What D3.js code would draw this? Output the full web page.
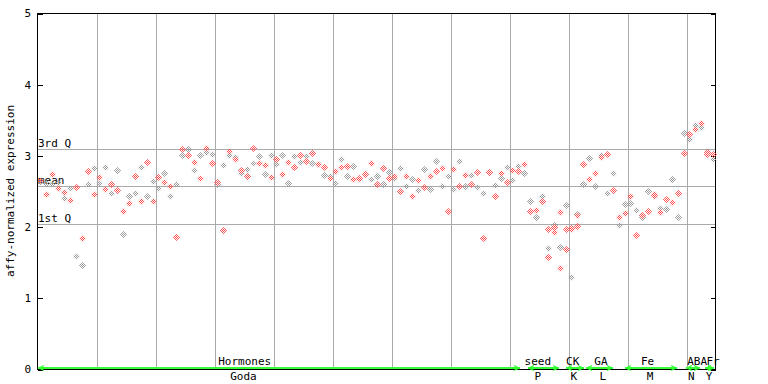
<!DOCTYPE html>
<html><head><meta charset="utf-8">
<script src="https://cdn.jsdelivr.net/npm/d3@7"></script>
<style>
body{margin:0;background:#fff}
svg{display:block}
text{font-family:"DejaVu Sans Mono",monospace;font-size:11px;fill:#000}
</style>
</head><body>
<svg id="chart" width="768" height="384"></svg>
<script>
// replicate values per sample (column)
const repRed = [2.66,2.46,2.74,2.55,2.49,2.38,2.57,1.85,2.79,2.47,
  2.71,2.54,2.60,2.52,2.23,2.34,2.72,2.37,2.92,2.37,
  2.71,2.64,2.58,1.86,3.10,3.01,2.92,2.69,3.11,2.90,
  2.63,1.96,3.07,2.96,2.80,2.72,3.11,2.90,2.87,2.71,
  2.96,2.75,2.92,2.85,3.01,2.93,3.04,2.88,2.85,2.69,
  2.79,2.85,2.86,2.68,2.69,2.75,2.90,2.61,2.83,2.69,
  2.72,2.51,2.72,2.43,2.66,2.57,2.72,2.79,2.83,2.23,
  2.82,2.58,2.73,2.61,2.78,1.84,2.78,2.43,2.76,2.64,
  2.80,2.79,2.89,2.23,2.24,2.37,1.98,1.93,2.21,1.69,
  1.99,2.17,2.89,2.68,2.76,2.99,3.03,2.52,2.14,2.20,
  2.43,1.89,2.17,2.23,2.47,2.21,2.40,2.35,2.48,3.04,
  3.31,3.38,3.46,3.03,3.03];
const repGray = [2.63,2.62,2.60,2.63,2.41,2.55,1.59,1.47,2.61,2.83,
  2.62,2.85,2.48,2.80,1.91,2.44,2.48,2.85,2.44,2.65,
  2.55,2.76,2.44,2.60,3.01,3.09,2.80,3.01,3.06,3.03,
  2.61,2.87,3.01,2.98,2.76,2.82,2.90,3.00,2.75,3.01,
  2.89,3.01,2.62,3.00,2.92,3.00,2.90,2.89,2.73,2.72,
  2.62,2.96,2.72,2.86,2.67,2.76,2.68,2.72,2.61,2.78,
  2.69,2.83,2.58,2.68,2.52,2.82,2.54,2.93,2.58,2.72,
  2.54,2.93,2.58,2.73,2.57,2.48,2.77,2.59,2.69,2.85,
  2.66,2.86,2.76,2.37,2.14,2.43,1.71,2.03,1.72,2.31,
  1.30,2.19,2.61,2.97,2.58,3.01,2.48,2.76,2.03,2.33,
  2.34,2.24,2.14,2.51,2.43,2.27,2.26,2.68,2.14,3.32,
  3.24,3.44,3.41,3.07,2.96];
const rep3Cols = [86,87,88,89,90,91,104,113];
const rep3Vals = [1.58,2.00,1.43,1.98,1.97,2.02,2.45,3.05];

const yTicks = [0,1,2,3,4,5];
const refLabels = ["3rd Q","mean","1st Q"];
const refValues = [3.10,2.58,2.04];

const groupNames = ["Hormones","seed","CK","GA","Fe","ABA","Fr"];
const groupStart = [-0.45,82.6,89.1,92.5,99.1,109.4,112.6];
const groupEnd   = [81.2,87.9,92.1,97.0,107.9,111.8,114.1];
const groupLabelPos = [34.6,84.3,90.2,95.0,102.9,111.3,114.0];
const subNames = ["Goda","P","K","L","M","N","Y"];
const subLabelPos = [34.4,84.3,90.4,95.3,103.3,110.3,113.3];
const yTitle = "affy-normalized expression";

const svg = d3.select("#chart");
const x = d3.scaleLinear().domain([-0.508,114.407]).range([37.5,715.5]);
const y = d3.scaleLinear().domain([0,5]).range([369.5,13.5]);
const L = 37.5, R = 715.5, T = 13.5, B = 369.5;

// checker patterns
const defs = svg.append("defs");
[["pr","#ff4d4d"],["pg","#999999"]].forEach(([id,c])=>{
  const p = defs.append("pattern").attr("id",id).attr("patternUnits","userSpaceOnUse")
    .attr("width",2).attr("height",2);
  p.append("rect").attr("x",0).attr("y",0).attr("width",1).attr("height",1).attr("fill",c);
  p.append("rect").attr("x",1).attr("y",1).attr("width",1).attr("height",1).attr("fill",c);
});

// vertical grid
const gridCols = d3.range(1,12).map(k=>10*k-0.34);
svg.append("g").attr("shape-rendering","crispEdges").selectAll("line").data(gridCols).join("line")
  .attr("x1",d=>Math.round(x(d))+0.5).attr("x2",d=>Math.round(x(d))+0.5)
  .attr("y1",T).attr("y2",B).attr("stroke","#aaaaaa").attr("stroke-width",1);

// reference lines
svg.append("g").attr("shape-rendering","crispEdges").selectAll("line").data(refValues).join("line")
  .attr("x1",L).attr("x2",R)
  .attr("y1",d=>Math.round(y(d))+0.5).attr("y2",d=>Math.round(y(d))+0.5)
  .attr("stroke","#aaaaaa").attr("stroke-width",1);
svg.append("g").selectAll("text").data(refValues).join("text")
  .attr("x",38).attr("y",d=>Math.round(y(d))-2)
  .text((d,i)=>refLabels[i]);

// frame
svg.append("rect").attr("x",L).attr("y",T).attr("width",R-L).attr("height",B-T)
  .attr("fill","none").attr("stroke","#000").attr("stroke-width",1).attr("shape-rendering","crispEdges");

// y axis ticks + labels
const ty = v=>Math.round(y(v))+0.5;
svg.append("g").attr("shape-rendering","crispEdges").selectAll("line").data(yTicks).join("line")
  .attr("x1",L).attr("x2",L+5).attr("y1",ty).attr("y2",ty).attr("stroke","#000");
svg.append("g").attr("shape-rendering","crispEdges").selectAll("line").data(yTicks).join("line")
  .attr("x1",R-5).attr("x2",R).attr("y1",ty).attr("y2",ty).attr("stroke","#000");
svg.append("g").selectAll("text").data(yTicks).join("text")
  .attr("x",31).attr("y",d=>y(d)).attr("dy","0.36em").attr("text-anchor","end")
  .text(d=>d);

svg.append("text").attr("transform","translate(14,191) rotate(-90)")
  .attr("text-anchor","middle").text(yTitle);

// points
function diamond(cx,cy){
  cx = Math.round(cx)+0.5; cy = Math.round(cy)+0.5;
  const r=3.6;
  return `M${cx},${cy-r}L${cx+r},${cy}L${cx},${cy+r}L${cx-r},${cy}Z`;
}
const pts = [];
repGray.forEach((v,i)=>pts.push({i,v,c:"pg"}));
repRed.forEach((v,i)=>pts.push({i,v,c:"pr"}));
rep3Cols.forEach((c,k)=>pts.push({i:c,v:rep3Vals[k],c:"pr"}));
svg.append("g").selectAll("path").data(pts).join("path")
  .attr("d",d=>diamond(x(d.i),y(d.v)))
  .attr("fill",d=>`url(#${d.c})`);

// bottom group bars
const gy = 368, green = "#33ff33";
const gg = svg.append("g");
groupNames.forEach((n,k)=>{
  const xs = Math.round(x(groupStart[k])), xe = Math.round(x(groupEnd[k]));
  gg.append("line").attr("x1",xs).attr("x2",xe).attr("y1",gy).attr("y2",gy)
    .attr("stroke",green).attr("stroke-width",2).attr("shape-rendering","crispEdges");
  gg.append("path").attr("d",`M${xs+6},${gy-2.5}L${xs+1},${gy}L${xs+6},${gy+2.5}`)
    .attr("fill","none").attr("stroke",green).attr("stroke-width",1.3);
  gg.append("path").attr("d",`M${xe-6},${gy-2.5}L${xe-1},${gy}L${xe-6},${gy+2.5}`)
    .attr("fill","none").attr("stroke",green).attr("stroke-width",1.3);
});
svg.append("g").selectAll("text").data(groupNames).join("text")
  .attr("x",(d,i)=>x(groupLabelPos[i])).attr("y",365).attr("text-anchor","middle")
  .text(d=>d);
svg.append("g").selectAll("text").data(subNames).join("text")
  .attr("x",(d,i)=>x(subLabelPos[i])).attr("y",380).attr("text-anchor","middle")
  .text(d=>d);
</script>
</body></html>
